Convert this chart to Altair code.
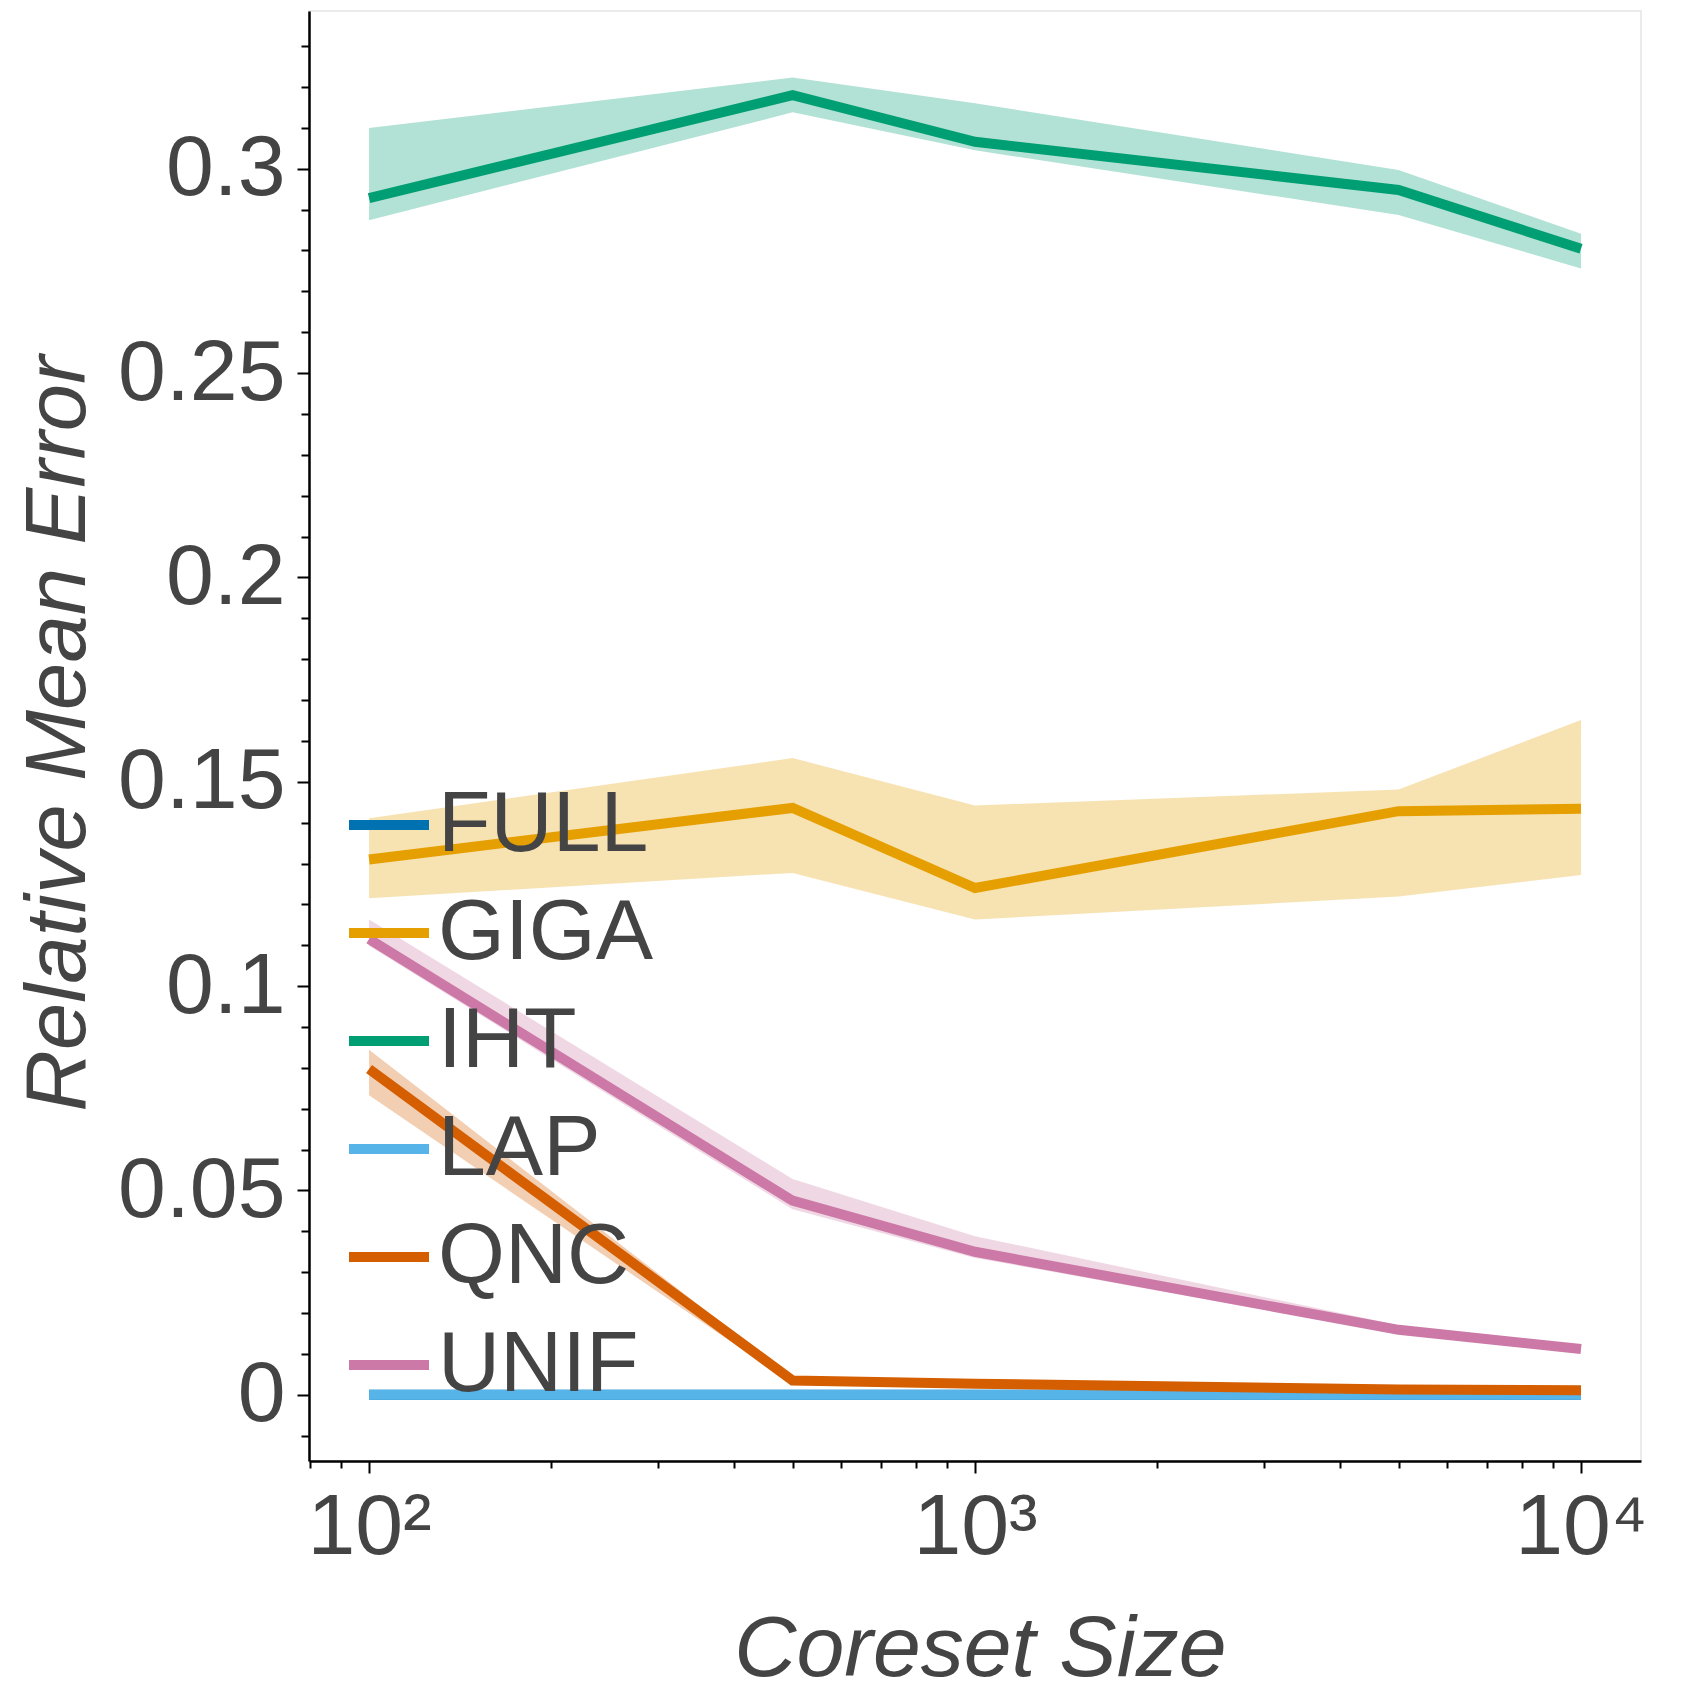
import altair as alt
import pandas as pd

# ---------------- data ----------------
coreset_sizes = [100, 500, 1000, 5000, 10000]
methods = ["FULL", "GIGA", "IHT", "LAP", "QNC", "UNIF"]
colors = ["#0072B2", "#E69F00", "#009E73", "#56B4E9", "#D55E00", "#CC79A7"]

full_mean = [0.0, 0.0, 0.0, 0.0, 0.0]
full_lo = [0.0, 0.0, 0.0, 0.0, 0.0]
full_hi = [0.0, 0.0, 0.0, 0.0, 0.0]

giga_mean = [0.1310, 0.1436, 0.1240, 0.1428, 0.1434]
giga_lo = [0.1215, 0.1277, 0.1163, 0.1219, 0.1272]
giga_hi = [0.1411, 0.1558, 0.1442, 0.1481, 0.1651]

iht_mean = [0.2928, 0.3180, 0.3066, 0.2948, 0.2804]
iht_lo = [0.2874, 0.3138, 0.3045, 0.2887, 0.2756]
iht_hi = [0.3100, 0.3223, 0.3160, 0.2997, 0.2841]

lap_mean = [0.0, 0.0, 0.0, 0.0, 0.0]
lap_lo = [0.0, 0.0, 0.0, 0.0, 0.0]
lap_hi = [0.0, 0.0, 0.0, 0.0, 0.0]

qnc_mean = [0.0797, 0.0035, 0.0027, 0.0013, 0.0011]
qnc_lo = [0.0733, 0.0027, 0.0022, 0.0010, 0.0009]
qnc_hi = [0.0844, 0.0042, 0.0032, 0.0016, 0.0013]

unif_mean = [0.1115, 0.0475, 0.0350, 0.0159, 0.0112]
unif_lo = [0.1099, 0.0454, 0.0335, 0.0149, 0.0105]
unif_hi = [0.1163, 0.0528, 0.0388, 0.0170, 0.0118]

x_tick_values = [80, 90, 100, 200, 300, 400, 500, 600, 700, 800, 900,
                 1000, 2000, 3000, 4000, 5000, 6000, 7000, 8000, 9000, 10000]
y_tick_values = [-0.01, 0.0, 0.01, 0.02, 0.03, 0.04, 0.05, 0.06, 0.07, 0.08,
                 0.09, 0.1, 0.11, 0.12, 0.13, 0.14, 0.15, 0.16, 0.17, 0.18,
                 0.19, 0.2, 0.21, 0.22, 0.23, 0.24, 0.25, 0.26, 0.27, 0.28,
                 0.29, 0.3, 0.31, 0.32, 0.33]

series = {
    "FULL": (full_mean, full_lo, full_hi),
    "GIGA": (giga_mean, giga_lo, giga_hi),
    "IHT": (iht_mean, iht_lo, iht_hi),
    "LAP": (lap_mean, lap_lo, lap_hi),
    "QNC": (qnc_mean, qnc_lo, qnc_hi),
    "UNIF": (unif_mean, unif_lo, unif_hi),
}

rows = []
for order, m in enumerate(methods):
    mean, lo, hi = series[m]
    for x, a, b, c in zip(coreset_sizes, mean, lo, hi):
        rows.append({"method": m, "order": order, "size": x,
                     "mean": a, "lo": b, "hi": c})
df = pd.DataFrame(rows)

FONT = "Liberation Sans"
TXT = "#444444"

x_scale = alt.Scale(type="log", domain=[79.6, 12560], nice=False)
y_scale = alt.Scale(domain=[-0.0162, 0.3386], nice=False, zero=False)
c_scale = alt.Scale(domain=methods, range=colors)

x_axis = alt.Axis(
    title="Coreset Size",
    values=x_tick_values,
    labelExpr="datum.value == 100 ? '10\u00b2' : datum.value == 1000 ? '10\u00b3' : datum.value == 10000 ? '10\u2074' : ''",
    tickSize={"condition": {"test": "datum.value == 100 || datum.value == 1000 || datum.value == 10000", "value": 12}, "value": 7},
    labelPadding=12,
    labelFont=FONT, labelFontSize=86, labelColor=TXT,
    labelFlush=False, labelOverlap=False, labelBound=False, labelLimit=400,
    titleFont=FONT, titleFontSize=86, titleFontStyle="italic",
    titleFontWeight="normal", titleColor=TXT,
    titleX=671, titleY=214, titleBaseline="alphabetic",
    titleAlign="center",
    grid=False, domainColor="black", domainWidth=2.5,
    tickColor="black", tickWidth=2,
)

y_axis = alt.Axis(
    title="Relative Mean Error",
    values=y_tick_values,
    labelExpr="abs(datum.value*20 - round(datum.value*20)) < 0.001 ? format(datum.value, '~g') : ''",
    tickSize={"condition": {"test": "abs(datum.value*20 - round(datum.value*20)) < 0.001", "value": 12}, "value": 8},
    labelPadding=12,
    labelFont=FONT, labelFontSize=86, labelColor=TXT,
    labelFlush=False, labelOverlap=False, labelBound=False, labelLimit=400,
    titleFont=FONT, titleFontSize=85, titleFontStyle="italic",
    titleFontWeight="normal", titleColor=TXT,
    titleAngle=270, titleX=-225, titleY=722, titleBaseline="alphabetic",
    titleAlign="center",
    grid=False, domainColor="black", domainWidth=2.5,
    tickColor="black", tickWidth=2,
)

legend = alt.Legend(
    title=None, orient="none", legendX=35, legendY=769,
    symbolType="stroke", symbolSize=6400, symbolStrokeWidth=10,
    symbolOpacity=1,
    labelFont=FONT, labelFontSize=86, labelColor=TXT,
    labelOffset=4, labelLimit=400, rowPadding=20, padding=0,
)

base = alt.Chart(df)

bands = base.mark_area(opacity=0.3).encode(
    x=alt.X("size:Q", scale=x_scale, axis=x_axis),
    y=alt.Y("lo:Q", scale=y_scale, axis=y_axis),
    y2="hi:Q",
    color=alt.Color("method:N", scale=c_scale, legend=legend),
    order="order:Q",
)

lines = base.mark_line(strokeWidth=10, strokeCap="butt").encode(
    x=alt.X("size:Q", scale=x_scale),
    y=alt.Y("mean:Q", scale=y_scale),
    color=alt.Color("method:N", scale=c_scale, legend=legend),
    order="order:Q",
)

chart = alt.layer(bands, lines).properties(
    width=1332, height=1450,
    autosize=alt.AutoSizeParams(type="none"),
    padding={"left": 301, "top": 3, "right": 51, "bottom": 231},
).configure_view(stroke="#e5e5e5", strokeWidth=1.5)

chart.save("out.html", embed_options={"renderer": "svg", "actions": False})
